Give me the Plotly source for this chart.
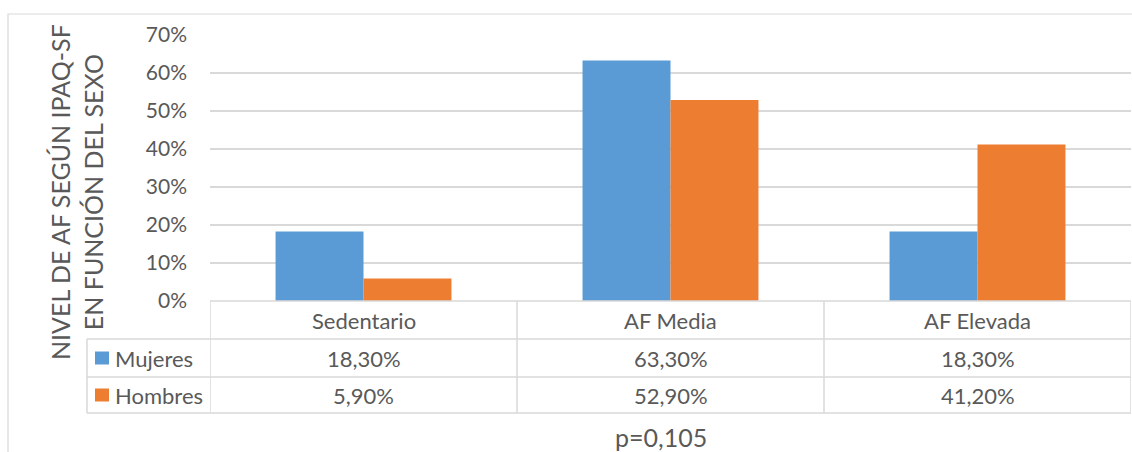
import plotly.graph_objects as go

# Physical activity level (IPAQ-SF) by sex
categories = ["Sedentario", "AF Media", "AF Elevada"]
mujeres = [18.3, 63.3, 18.3]
hombres = [5.9, 52.9, 41.2]
series_names = ["Mujeres", "Hombres"]
y_ticks = [0, 10, 20, 30, 40, 50, 60, 70]
y_title = "NIVEL DE AF SEGÚN IPAQ-SF<br>EN FUNCIÓN DEL SEXO"
footnote = "p=0,105"

BLUE = "#5B9BD5"
ORANGE = "#ED7D31"
TEXT = "#595959"
GRID = "#D9D9D9"
FONT = "Lato"
TABLE_SIZE = 22

W, H = 1132, 452
L, R, T, B = 210, 1, 35, 151
PW, PH = W - L - R, H - T - B


def px(x):
    return (x - L) / PW


def py(y):
    return (H - B - y) / PH


def pct(v):
    return f"{v:.2f}%".replace(".", ",")


fig = go.Figure()
fig.add_trace(go.Bar(x=categories, y=mujeres, name=series_names[0],
                     marker=dict(color=BLUE, line=dict(width=0))))
fig.add_trace(go.Bar(x=categories, y=hombres, name=series_names[1],
                     marker=dict(color=ORANGE, line=dict(width=0))))

shapes = []
annotations = []


def label(x, y, text, size, xref="paper", xanchor="center", angle=0):
    annotations.append(dict(x=x, xref=xref, y=y, yref="paper", text=text,
                            showarrow=False, xanchor=xanchor, yanchor="middle",
                            textangle=angle,
                            font=dict(family=FONT, size=size, color=TEXT)))


# outer chart frame
shapes.append(dict(type="rect", xref="paper", yref="paper",
                   x0=px(8), x1=px(W + 20), y0=py(H + 20), y1=py(14),
                   line=dict(color=GRID, width=1.2), layer="below"))

# data table grid
row_y = [301, 339, 377, 413]
for i, yy in enumerate(row_y):
    x_start = px(210) if i == 0 else px(87)
    shapes.append(dict(type="line", xref="paper", yref="paper",
                       x0=x_start, x1=px(1131), y0=py(yy), y1=py(yy),
                       line=dict(color=GRID, width=1.5)))
shapes.append(dict(type="line", xref="paper", yref="paper",
                   x0=px(87), x1=px(87), y0=py(339), y1=py(413),
                   line=dict(color=GRID, width=1.5)))
for k in range(len(categories) + 1):
    shapes.append(dict(type="line", xref="x", yref="paper",
                       x0=k - 0.5, x1=k - 0.5, y0=py(301), y1=py(413),
                       line=dict(color=GRID, width=1.5)))

# category header row
for i, c in enumerate(categories):
    label(i, py(320), c, TABLE_SIZE, xref="x")

# value rows with legend keys
for r, (name, vals, col) in enumerate(zip(series_names, [mujeres, hombres], [BLUE, ORANGE])):
    yc = (row_y[r + 1] + row_y[r + 2]) / 2
    shapes.append(dict(type="rect", xref="paper", yref="paper",
                       x0=px(95), x1=px(109), y0=py(yc + 6.5), y1=py(yc - 6.5),
                       fillcolor=col, line=dict(width=0)))
    label(px(113), py(yc), name, TABLE_SIZE, xanchor="left")
    for i, v in enumerate(vals):
        label(i, py(yc), pct(v), TABLE_SIZE, xref="x")

# axis title
label(px(76), py(192), y_title, 25, angle=-90)

# footnote
label(px(661), py(437), footnote, 25)

fig.update_layout(
    width=W, height=H,
    margin=dict(l=L, r=R, t=T, b=B, pad=0),
    paper_bgcolor="white", plot_bgcolor="white",
    barmode="group", bargap=0.427, bargroupgap=0,
    showlegend=False,
    shapes=shapes, annotations=annotations,
    xaxis=dict(range=[-0.5, 2.5], showticklabels=False, showgrid=False,
               zeroline=False, showline=False, ticks=""),
    yaxis=dict(range=[0, 70], tickvals=y_ticks,
               ticktext=[f"{t}%" for t in y_ticks],
               showgrid=True, gridcolor=GRID, gridwidth=1.5,
               zeroline=False, showline=False, ticks="",
               ticklabelstandoff=22,
               tickfont=dict(family=FONT, size=21, color=TEXT)),
)

fig.write_html("out.html")
